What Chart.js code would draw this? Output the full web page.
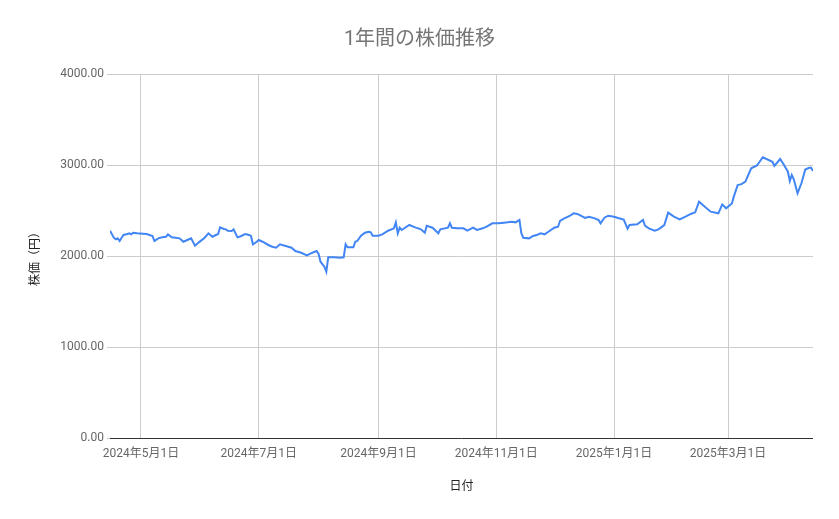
<!DOCTYPE html>
<html>
<head>
<meta charset="utf-8">
<script src="https://cdn.jsdelivr.net/npm/chart.js@4.4.1/dist/chart.umd.min.js"></script>
<style>
  html, body { margin: 0; padding: 0; background: #fff; }
  #wrap { width: 839px; height: 519px; }
</style>
</head>
<body>
<div id="wrap"><canvas id="c" width="839" height="519"></canvas></div>
<script>
const titleText = '1年間の株価推移';
const xTitle = '日付';
const yTitle = '株価（円）';

const dates = [
  '2024-04-15','2024-04-17','2024-04-18','2024-04-19','2024-04-20','2024-04-21','2024-04-22','2024-04-24','2024-04-25','2024-04-26','2024-04-27','2024-04-29',
  '2024-05-02','2024-05-04','2024-05-07','2024-05-08','2024-05-10','2024-05-12','2024-05-14','2024-05-15','2024-05-17','2024-05-19','2024-05-21','2024-05-23','2024-05-25','2024-05-27','2024-05-29','2024-05-31',
  '2024-06-03','2024-06-05','2024-06-07','2024-06-10','2024-06-11','2024-06-13','2024-06-14','2024-06-15','2024-06-17','2024-06-18','2024-06-20','2024-06-22','2024-06-24','2024-06-26','2024-06-27','2024-06-28','2024-06-30',
  '2024-07-01','2024-07-03','2024-07-06','2024-07-08','2024-07-10','2024-07-12','2024-07-15','2024-07-18','2024-07-20','2024-07-23','2024-07-26','2024-07-28','2024-07-30','2024-07-31',
  '2024-08-01','2024-08-02','2024-08-04','2024-08-05','2024-08-06','2024-08-09','2024-08-12','2024-08-14','2024-08-15','2024-08-16','2024-08-19','2024-08-20','2024-08-21','2024-08-23','2024-08-25','2024-08-27','2024-08-28','2024-08-29',
  '2024-09-01','2024-09-03','2024-09-06','2024-09-09','2024-09-10','2024-09-11','2024-09-12','2024-09-13','2024-09-17','2024-09-20','2024-09-23','2024-09-25','2024-09-26','2024-09-29',
  '2024-10-02','2024-10-03','2024-10-07','2024-10-08','2024-10-09','2024-10-12','2024-10-15','2024-10-17','2024-10-20','2024-10-22','2024-10-25','2024-10-27','2024-10-30',
  '2024-11-02','2024-11-05','2024-11-09','2024-11-11','2024-11-13','2024-11-14','2024-11-15','2024-11-18','2024-11-20','2024-11-22','2024-11-24','2024-11-26','2024-11-28',
  '2024-12-01','2024-12-03','2024-12-04','2024-12-06','2024-12-09','2024-12-11','2024-12-13','2024-12-17','2024-12-19','2024-12-22','2024-12-24','2024-12-25','2024-12-27','2024-12-29',
  '2025-01-01','2025-01-03','2025-01-06','2025-01-08','2025-01-09','2025-01-13','2025-01-16','2025-01-17','2025-01-19','2025-01-22','2025-01-24','2025-01-27','2025-01-29',
  '2025-02-01','2025-02-04','2025-02-07','2025-02-10','2025-02-12','2025-02-14','2025-02-17','2025-02-20','2025-02-24','2025-02-26','2025-02-28',
  '2025-03-03','2025-03-04','2025-03-06','2025-03-08','2025-03-10','2025-03-13','2025-03-16','2025-03-17','2025-03-19','2025-03-24','2025-03-25','2025-03-28','2025-03-30',
  '2025-04-01','2025-04-02','2025-04-03','2025-04-04','2025-04-06','2025-04-08','2025-04-10','2025-04-12','2025-04-13','2025-04-14'
];

const prices = [
  2278,2201,2183,2194,2165,2201,2231,2242,2249,2238,2256,2249,
  2245,2242,2220,2165,2194,2205,2212,2238,2205,2201,2194,2157,2176,2194,2113,2150,
  2201,2249,2212,2242,2315,2297,2293,2278,2275,2293,2205,2220,2242,2231,2220,2128,2157,
  2176,2157,2121,2102,2091,2128,2110,2091,2055,2036,2007,2029,2047,2055,
  2022,1937,1882,1827,1985,1985,1981,1985,2128,2095,2095,2157,2165,2223,2256,2267,2260,2223,
  2223,2238,2278,2304,2370,2249,2311,2286,2341,2315,2293,2256,2333,2311,
  2249,2293,2311,2359,2311,2304,2304,2278,2311,2286,2304,2322,2359,
  2359,2366,2377,2370,2396,2249,2201,2194,2220,2231,2249,2238,2267,
  2311,2322,2385,2410,2440,2469,2462,2418,2432,2414,2396,2359,2421,2443,
  2432,2418,2400,2300,2340,2348,2396,2333,2304,2278,2293,2340,2476,
  2432,2403,2432,2465,2480,2597,2540,2487,2469,2567,2524,
  2578,2652,2780,2790,2817,2964,2996,3025,3085,3036,2989,3066,3000,
  2926,2824,2890,2845,2690,2799,2950,2970,2970,2934
];

const xTickDates = ['2024-05-01','2024-07-01','2024-09-01','2024-11-01','2025-01-01','2025-03-01'];
const xRange = ['2024-04-15','2025-04-14'];
const yTicks = [0, 1000, 2000, 3000, 4000];

const DAY = 86400000;
function dayNum(s) {
  const [y, m, d] = s.split('-').map(Number);
  return Date.UTC(y, m - 1, d) / DAY;
}
function jpDate(v) {
  const dt = new Date(v * DAY);
  return dt.getUTCFullYear() + '年' + (dt.getUTCMonth() + 1) + '月' + dt.getUTCDate() + '日';
}

const points = dates.map((d, i) => ({ x: dayNum(d), y: prices[i] }));
const FONT = "Roboto, 'Noto Sans CJK JP', sans-serif";

new Chart(document.getElementById('c'), {
  type: 'line',
  data: {
    datasets: [{
      label: '株価',
      data: points,
      borderColor: '#4285F4',
      backgroundColor: '#4285F4',
      borderWidth: 2,
      pointRadius: 0,
      pointHoverRadius: 0,
      tension: 0,
      fill: false
    }]
  },
  options: {
    responsive: false,
    animation: false,
    devicePixelRatio: 1,
    layout: { padding: { left: 0, right: 0, top: 0, bottom: 0 } },
    plugins: {
      legend: { display: false },
      tooltip: { enabled: false },
      title: {
        display: true,
        text: titleText,
        color: '#757575',
        font: { family: FONT, size: 20, weight: 'normal' },
        padding: { top: 28, bottom: 22 }
      }
    },
    scales: {
      x: {
        type: 'linear',
        min: dayNum(xRange[0]),
        max: dayNum(xRange[1]),
        afterBuildTicks: (scale) => { scale.ticks = xTickDates.map(d => ({ value: dayNum(d) })); },
        afterFit: (scale) => { scale.height = 81; },
        ticks: {
          autoSkip: false,
          maxRotation: 0,
          padding: 9,
          color: '#666',
          font: { family: FONT, size: 12 },
          callback: (v) => jpDate(v)
        },
        grid: { color: '#cccccc', drawTicks: false, lineWidth: 1 },
        border: { display: false },
        title: {
          display: true,
          text: xTitle,
          color: '#222',
          font: { family: FONT, size: 12 },
          padding: { top: 0, bottom: 24.8 }
        }
      },
      y: {
        min: 0,
        max: 4000,
        afterBuildTicks: (scale) => { scale.ticks = yTicks.map(v => ({ value: v })); },
        afterFit: (scale) => { scale.width = 110; },
        ticks: {
          padding: 3,
          color: '#666',
          font: { family: FONT, size: 12 },
          callback: (v) => Number(v).toFixed(2)
        },
        grid: {
          color: (ctx) => (ctx.tick && ctx.tick.value === 0) ? '#333333' : '#cccccc',
          tickColor: '#cccccc',
          tickLength: 3,
          drawTicks: true,
          lineWidth: 1
        },
        border: { display: false },
        title: {
          display: true,
          text: yTitle,
          color: '#222',
          font: { family: FONT, size: 12 },
          padding: { top: 28.8, bottom: 0 }
        }
      },
      yRight: {
        position: 'right',
        min: 0,
        max: 4000,
        afterFit: (scale) => { scale.width = 26; },
        ticks: { display: false },
        grid: { display: false, drawTicks: false },
        border: { display: false },
        title: { display: false }
      }
    }
  }
});
</script>
</body>
</html>
